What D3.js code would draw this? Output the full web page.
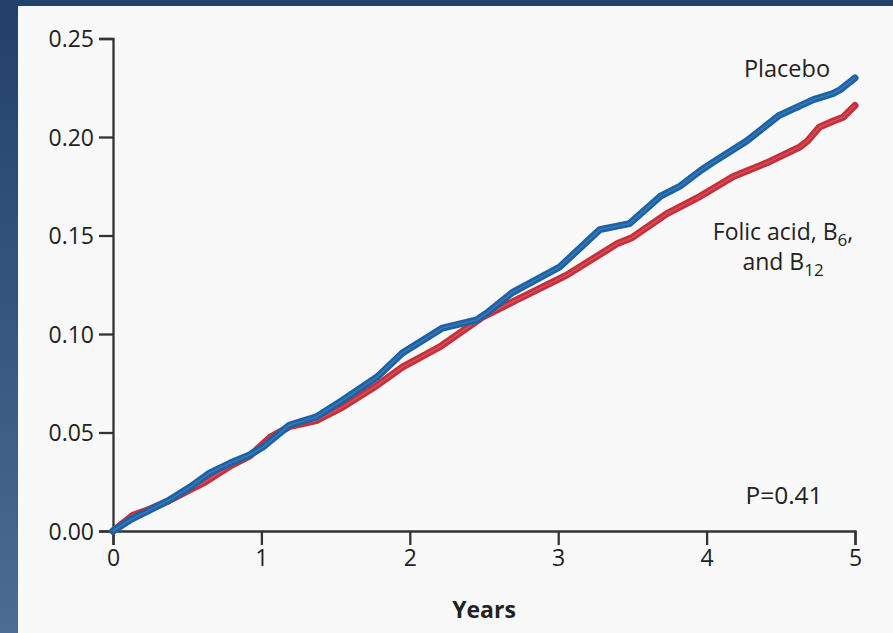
<!DOCTYPE html>
<html>
<head>
<meta charset="utf-8">
<script src="https://cdn.jsdelivr.net/npm/d3@7"></script>
<style>
  html, body { margin: 0; padding: 0; background: #23416c; }
  svg { display: block; }
  text { font-family: "Open Sans", "Noto Sans", sans-serif; fill: #222; }
</style>
</head>
<body>
<svg id="chart" width="893" height="633"></svg>
<script>
// Cumulative incidence over follow-up (years)
const placeboYears = [0, 0.115, 0.25, 0.38, 0.52, 0.65, 0.79, 0.92, 1.01, 1.19, 1.37, 1.55, 1.78, 1.95, 2.22, 2.45, 2.52, 2.69, 3.01, 3.28, 3.48, 3.69, 3.82, 3.96, 4.04, 4.27, 4.49, 4.72, 4.85, 4.90, 5.0];
const placeboRisk  = [0, 0.0056, 0.0107, 0.0157, 0.0223, 0.0294, 0.0345, 0.0386, 0.0426, 0.0538, 0.0579, 0.0665, 0.0782, 0.0904, 0.1030, 0.1071, 0.1107, 0.121, 0.134, 0.153, 0.156, 0.170, 0.175, 0.183, 0.187, 0.198, 0.211, 0.219, 0.222, 0.224, 0.230];

const vitaminYears = [0, 0.13, 0.25, 0.38, 0.52, 0.61, 0.79, 0.92, 1.06, 1.19, 1.37, 1.55, 1.78, 1.95, 2.20, 2.49, 2.72, 3.06, 3.40, 3.50, 3.73, 3.96, 4.18, 4.41, 4.63, 4.68, 4.76, 4.85, 4.92, 5.0];
const vitaminRisk  = [0, 0.0078, 0.0112, 0.0155, 0.021, 0.0244, 0.033, 0.038, 0.0477, 0.053, 0.056, 0.063, 0.074, 0.0832, 0.0934, 0.1086, 0.1173, 0.130, 0.146, 0.149, 0.161, 0.170, 0.180, 0.187, 0.195, 0.198, 0.205, 0.208, 0.210, 0.216];

const yTicks = [0, 0.05, 0.10, 0.15, 0.20, 0.25];
const xTicks = [0, 1, 2, 3, 4, 5];

const svg = d3.select("#chart");
const W = 893, H = 633;

// Backdrop: dark frame with a lighter-toward-bottom left strip, light panel
const defs = svg.append("defs");
const grad = defs.append("linearGradient").attr("id", "frameGrad")
  .attr("x1", 0).attr("y1", 0).attr("x2", 0).attr("y2", 1);
grad.append("stop").attr("offset", "0%").attr("stop-color", "#22406b");
grad.append("stop").attr("offset", "100%").attr("stop-color", "#4b6c93");

svg.append("rect").attr("width", W).attr("height", H).attr("fill", "url(#frameGrad)");
svg.append("rect").attr("x", 18).attr("y", 0).attr("width", W - 18).attr("height", 6).attr("fill", "#23416d");
svg.append("rect").attr("x", 18).attr("y", 6).attr("width", W - 18).attr("height", H - 6).attr("fill", "#f9f9f9");

const x = d3.scaleLinear().domain([0, 5]).range([113, 855]);
const y = d3.scaleLinear().domain([0, 0.25]).range([531, 38.5]);

// Axes
const yAxis = d3.axisLeft(y).tickValues(yTicks).tickFormat(d3.format(".2f"))
  .tickSize(14).tickSizeOuter(14).tickPadding(5);
const xAxis = d3.axisBottom(x).tickValues(xTicks).tickFormat(d3.format("d"))
  .tickSize(14).tickSizeOuter(14).tickPadding(5);

const axisStyle = g => {
  g.selectAll("path, line").attr("stroke", "#333").attr("stroke-width", 2.3);
  g.selectAll("text").attr("font-size", 23).attr("fill", "#222")
    .attr("font-family", "'Open Sans', 'Noto Sans', sans-serif");
};

svg.append("g").attr("transform", `translate(${x(0)},0)`).call(yAxis).call(axisStyle)
  .selectAll("text").attr("dy", "0.36em");
svg.append("g").attr("transform", `translate(0,${y(0)})`).call(xAxis).call(axisStyle);

// Curves
const line = d3.line().x(d => x(d[0])).y(d => y(d[1])).curve(d3.curveLinear);
const vitamin = d3.zip(vitaminYears, vitaminRisk);
const placebo = d3.zip(placeboYears, placeboRisk);

function drawCurve(data, outer, inner) {
  svg.append("path").datum(data).attr("d", line)
    .attr("fill", "none").attr("stroke", outer).attr("stroke-width", 7)
    .attr("stroke-linejoin", "round").attr("stroke-linecap", "round");
  svg.append("path").datum(data).attr("d", line)
    .attr("fill", "none").attr("stroke", inner).attr("stroke-width", 1.6)
    .attr("stroke-linejoin", "round").attr("stroke-opacity", 0.55);
}
drawCurve(vitamin, "#c72f3b", "#e06a72");
drawCurve(placebo, "#1d62a4", "#4d8cc8");

// Labels
svg.append("text").attr("x", 787).attr("y", 77).attr("text-anchor", "middle")
  .attr("font-size", 23.5).text("Placebo");

const lbl1 = svg.append("text").attr("x", 783).attr("y", 240).attr("text-anchor", "middle")
  .attr("font-size", 23);
lbl1.append("tspan").text("Folic acid, B");
lbl1.append("tspan").attr("font-size", 17).attr("dy", 6).text("6");
lbl1.append("tspan").attr("dy", -6).text(",");

const lbl2 = svg.append("text").attr("x", 783).attr("y", 270).attr("text-anchor", "middle")
  .attr("font-size", 23);
lbl2.append("tspan").text("and B");
lbl2.append("tspan").attr("font-size", 17).attr("dy", 6).text("12");

svg.append("text").attr("x", 784).attr("y", 504).attr("text-anchor", "middle")
  .attr("font-size", 24.5).text("P=0.41");

svg.append("text").attr("x", 484).attr("y", 618).attr("text-anchor", "middle")
  .attr("font-size", 23).attr("font-weight", "bold").text("Years");
</script>
</body>
</html>
